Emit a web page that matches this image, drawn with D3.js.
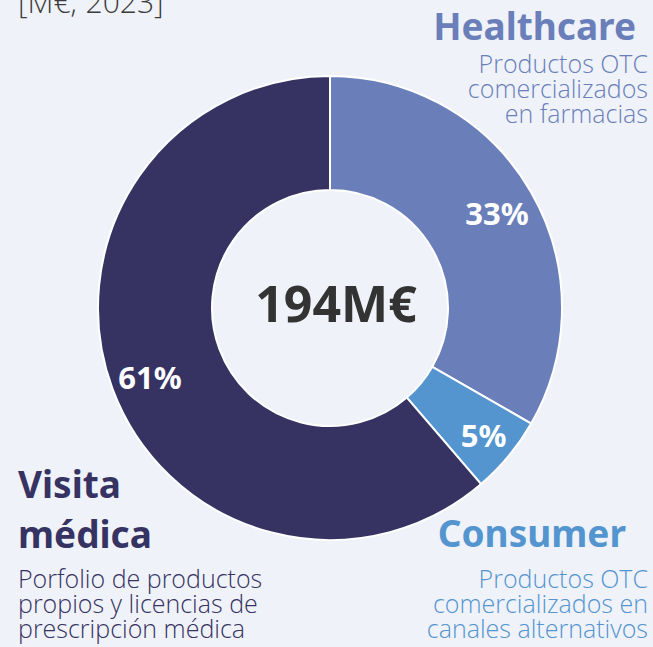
<!DOCTYPE html>
<html>
<head>
<meta charset="utf-8">
<script src="https://cdn.jsdelivr.net/npm/d3@7"></script>
<style>
  html, body { margin: 0; padding: 0; background: #eff2f8; }
  svg { display: block; }
</style>
</head>
<body>
<div id="chart"></div>
<script>
// ---- Data (M€, 2023) ----
const segments = ['Healthcare', 'Consumer', 'Visita médica'];
const values = [64.6, 10.5, 118.9];
const totalLabel = '194M€';
const unitLabel = '[M€; 2023]';
const subtitles = [
  ['Productos OTC', 'comercializados', 'en farmacias'],
  ['Productos OTC', 'comercializados en', 'canales alternativos'],
  ['Porfolio de productos', 'propios y licencias de', 'prescripción médica']
];
const colors = ['#6a7fba', '#5495d0', '#363363'];

// ---- Layout ----
const width = 653, height = 647;
const cx = 330, cy = 308;
const outerR = 232, innerR = 118;

const svg = d3.select('#chart').append('svg')
  .attr('width', width)
  .attr('height', height)
  .style('background', '#eff2f8');

const total = d3.sum(values);
const pie = d3.pie().sort(null).value(d => d)(values);
const arc = d3.arc().innerRadius(innerR).outerRadius(outerR);
const labelArc = d3.arc().innerRadius(193).outerRadius(193);

const g = svg.append('g').attr('transform', `translate(${cx},${cy})`);

g.selectAll('path.slice')
  .data(pie)
  .join('path')
  .attr('class', 'slice')
  .attr('d', arc)
  .attr('fill', (d, i) => colors[i])
  .attr('stroke', '#ffffff')
  .attr('stroke-width', 2);

// percentage labels
const pct = d3.format('.0%');
const pctOffset = [[0, 3], [5, 5], [1, 3]];
g.selectAll('text.pct')
  .data(pie)
  .join('text')
  .attr('class', 'pct')
  .attr('x', (d, i) => labelArc.centroid(d)[0] + pctOffset[i][0])
  .attr('y', (d, i) => labelArc.centroid(d)[1] + pctOffset[i][1])
  .attr('text-anchor', 'middle')
  .attr('dy', '0.35em')
  .attr('fill', '#ffffff')
  .attr('font-family', 'Noto Sans, sans-serif')
  .attr('font-weight', 700)
  .attr('font-size', 31)
  .text(d => pct(d.value / total));

// centre total
svg.append('text')
  .attr('x', 336).attr('y', 322)
  .attr('text-anchor', 'middle')
  .attr('fill', '#333333')
  .attr('font-family', 'Noto Sans, sans-serif')
  .attr('font-weight', 700)
  .attr('font-size', 50)
  .text(totalLabel);

// unit label (top, partly cut)
svg.append('text')
  .attr('x', 18).attr('y', 13)
  .attr('fill', '#3c3c3c')
  .attr('font-family', 'Open Sans, sans-serif')
  .attr('font-weight', 300)
  .attr('font-size', 30)
  .text(unitLabel);

// ---- Category labels ----
const titleFont = 'Noto Sans, sans-serif';
const subFont = 'Open Sans, sans-serif';
const labelPos = [
  { x: 636, y: 40, anchor: 'end', sx: 648, sy: 73, lines: [segments[0]] },
  { x: 626, y: 547, anchor: 'end', sx: 648, sy: 588, lines: ['Consumer'] },
  { x: 18, y: 498, anchor: 'start', sx: 18, sy: 588, lines: ['Visita', 'médica'] }
];

labelPos.forEach((p, i) => {
  const t = svg.append('text')
    .attr('text-anchor', p.anchor)
    .attr('fill', colors[i])
    .attr('font-family', titleFont)
    .attr('font-weight', 700)
    .attr('font-size', 37);
  p.lines.forEach((ln, j) => {
    t.append('tspan').attr('x', p.x).attr('y', p.y + j * 50).text(ln);
  });
  const s = svg.append('text')
    .attr('text-anchor', p.anchor)
    .attr('fill', colors[i])
    .attr('font-family', subFont)
    .attr('font-weight', 300)
    .attr('font-size', 25);
  subtitles[i].forEach((ln, j) => {
    s.append('tspan').attr('x', p.sx).attr('y', p.sy + j * 25).text(ln);
  });
});
</script>
</body>
</html>
